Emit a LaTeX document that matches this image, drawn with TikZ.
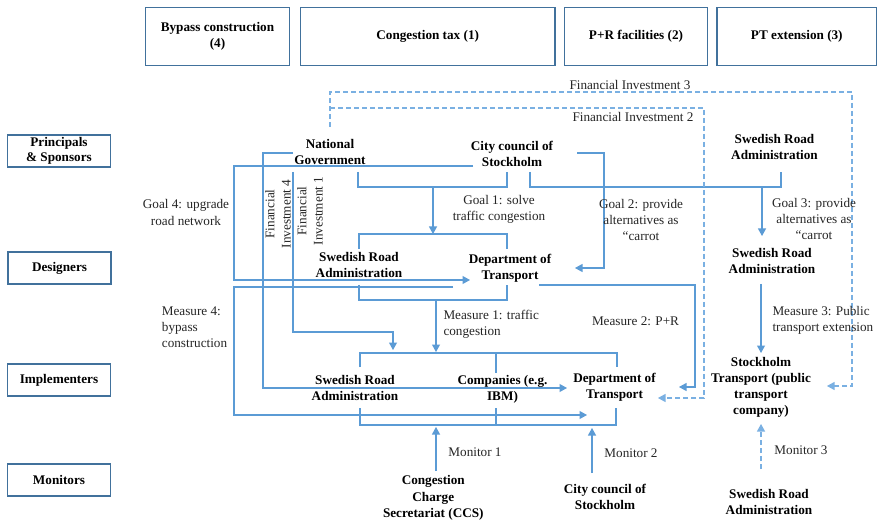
\documentclass[tikz,border=0pt]{standalone}
\usepackage{fontspec}
\setmainfont{Liberation Serif}
\usetikzlibrary{arrows.meta}
\definecolor{linkblue}{HTML}{5B9BD5}
\definecolor{boxblue}{HTML}{41719C}
\definecolor{dashblue}{HTML}{7AB0E2}
\definecolor{labelgray}{HTML}{262626}
\newcommand{\txtsize}{\fontsize{13.2}{16.2}\selectfont}
\begin{document}
\begin{tikzpicture}[x=1pt,y=-1pt,
  every node/.style={font=\txtsize, inner sep=0pt},
  hdr/.style={draw=boxblue, line width=1.5pt, font=\txtsize\bfseries, align=center, minimum height=58pt},
  role/.style={draw=boxblue, line width=1.5pt, font=\txtsize\bfseries, align=center, minimum width=103pt, minimum height=32pt},
  actor/.style={font=\txtsize\bfseries, align=center},
  lbl/.style={align=center, text=labelgray},
  lbll/.style={align=left, anchor=west, text=labelgray},
  link/.style={draw=linkblue, line width=1.05pt},
  dlink/.style={draw=dashblue, line width=1.05pt, dash pattern=on 5pt off 3pt},
  arr/.style={-{Triangle[width=8pt,length=7.5pt]}},
]
\fill[white] (0,0) rectangle (878,521);
\useasboundingbox (0,0) rectangle (878,521);

% measure headers
\node[hdr, minimum width=143.6pt] (hbyp) at (217.5,36.5) {Bypass construction\\(4)};
\node[hdr, minimum width=254.7pt] (hcong) at (427.7,36.3) {Congestion tax (1)};
\node[hdr, minimum width=143.4pt] (hpr) at (636,36.3) {P+R facilities (2)};
\node[hdr, minimum width=159.7pt] (hpt) at (796.8,36.3) {PT extension (3)};

% role boxes
\node[role] (rps) at (59,151.2) {Principals\\[-1pt]\& Sponsors};
\node[role] (rdes) at (59.5,268.2) {Designers};
\node[role] (rimp) at (59,380.2) {Implementers};
\node[role] (rmon) at (59,480) {Monitors};

% actors
\node[actor] (ng) at (330,151.7) {National\\Government};
\node[actor] (ccp) at (512,153.8) {City council of\\Stockholm};
\node[actor] (srap) at (774.5,146.7) {Swedish Road\\Administration};
\node[actor] (srad) at (359,265) {Swedish Road\\Administration};
\node[actor] (dotd) at (510,268.3) {Department of\\Transport};
\node[actor] (srad2) at (772,261.3) {Swedish Road\\Administration};
\node[actor] (srai) at (355,388.3) {Swedish Road\\Administration};
\node[actor] (comp) at (502.5,389.2) {Companies (e.g.\\IBM)};
\node[actor] (doti) at (614.5,387.5) {Department of\\Transport};
\node[actor] (stt) at (761,387.3) {Stockholm\\Transport (public\\transport\\company)};
\node[actor] (ccs) at (433.3,498) {Congestion\\Charge\\Secretariat (CCS)};
\node[actor] (ccm) at (605,497.3) {City council of\\Stockholm};
\node[actor] (sram) at (769,502) {Swedish Road\\Administration};

% connector end points
\coordinate (fi3s) at (330,127);
\coordinate (fi3e) at (827,386);
\coordinate (fi2s) at (330,108);
\coordinate (fi2e) at (658,398);
\coordinate (fi4s) at (293,153);
\coordinate (fi4e) at (567,388);
\coordinate (fi1s) at (293,172);
\coordinate (fi1e) at (393,350);
\coordinate (g4s) at (473,166);
\coordinate (g4e) at (470,280);
\coordinate (g2s) at (577,153);
\coordinate (g2e) at (575,268);
\coordinate (m4s) at (453,287);
\coordinate (m4e) at (587,415);
\coordinate (m2s) at (539,285);
\coordinate (m2e) at (679,387);

% group brackets
\draw[link] (358,172) |- (507,187) -- (507,172);
\draw[link] (530,172) |- (781,187) -- (781,172);
\draw[link] (359,249) |- (507,234) -- (507,249);
\draw[link] (359,285) |- (507,300) -- (507,285);
\draw[link] (360,367) |- (617,353) -- (617,367);
\draw[link] (496,353) -- (496,373);
\draw[link] (360,408) |- (616,425) -- (616,408);
\draw[link] (496,408) -- (496,425);

% goals and measures
\draw[link,arr] (433,187) -- (433,234);
\draw[link,arr] (762,187) -- (762,236);
\draw[link,arr] (g2s) -| (604,200) |- (g2e);
\draw[link,arr] (g4s) -- ++(-239,0) |- (g4e);
\draw[link,arr] (436,300) -- (436,352);
\draw[link,arr] (m4s) -- ++(-219,0) |- (m4e);
\draw[link,arr] (m2s) -| (695,330) |- (m2e);
\draw[link,arr] (761,284) -- (761,353);

% financial investments
\draw[link,arr] (fi4s) -- ++(-30,0) |- (fi4e);
\draw[link,arr] (fi1s) -- ++(0,160) -| (fi1e);
\draw[dlink,arr] (fi3s) -- (330,92) -| (852,300) |- (fi3e);
\draw[dlink,arr] (fi2s) -| (704,300) |- (fi2e);

% monitoring
\draw[link,arr] (436,471) -- (436,427);
\draw[link,arr] (592,473) -- (592,428);
\draw[dlink,arr] (761,469) -- (761,424);

% labels
\node[lbl] (lfi3) at (630,85) {Financial Investment 3};
\node[lbl] (lfi2) at (633,117.3) {Financial Investment 2};
\node[lbl] (lg4) at (186,212.5) {Goal 4: upgrade\\road network};
\node[lbl, rotate=90] (lfi4) at (278,214) {Financial\\Investment 4};
\node[lbl, rotate=90] (lfi1) at (310,211) {Financial\\Investment 1};
\node[lbl] (lg1) at (499,209.7) {Goal 1: solve\\traffic congestion};
\node[lbl] (lg2) at (641,219.7) {Goal 2: provide\\alternatives as\\“carrot};
\node[lbl] (lg3) at (814,219) {Goal 3: provide\\alternatives as\\“carrot};
\node[lbll] (lm4) at (161.7,327) {Measure 4:\\bypass\\construction};
\node[lbll] (lm1) at (443.3,324.5) {Measure 1: traffic\\congestion};
\node[lbl] (lm2) at (635.5,321.7) {Measure 2: P+R};
\node[lbll] (lm3) at (772.3,320.5) {Measure 3: Public\\transport extension};
\node[lbl] (lmo1) at (475,451.7) {Monitor 1};
\node[lbl] (lmo2) at (631,453.3) {Monitor 2};
\node[lbl] (lmo3) at (801,450) {Monitor 3};
\end{tikzpicture}
\end{document}
